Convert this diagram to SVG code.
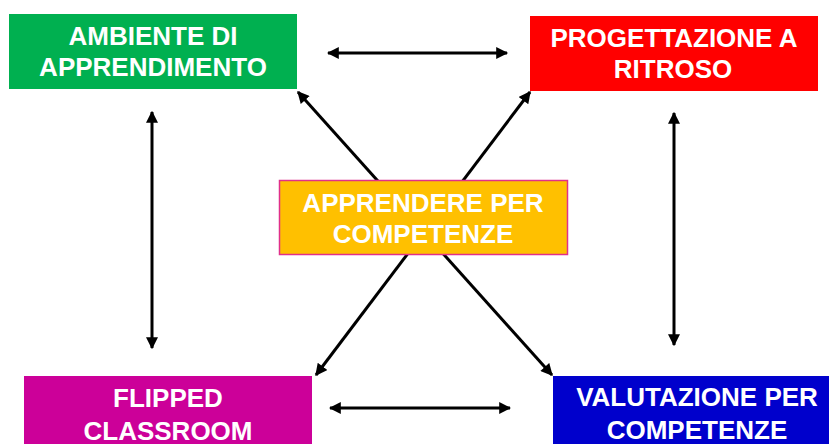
<svg xmlns="http://www.w3.org/2000/svg" width="829" height="444" viewBox="0 0 829 444">
<defs>
<marker id="ah" viewBox="0 0 10 10" refX="9" refY="5" markerWidth="4.2" markerHeight="4" orient="auto-start-reverse" markerUnits="strokeWidth">
<path d="M0,0 L10,5 L0,10 z" fill="#000"/>
</marker>
</defs>
<style>
.c{stroke:#000;stroke-width:3;fill:none;marker-start:url(#ah);marker-end:url(#ah)}
.t{font-family:"Liberation Sans",Arial,sans-serif;font-weight:bold;font-size:26px;fill:#fff;text-anchor:middle}
</style>
<rect width="829" height="444" fill="#fff"/>
<g id="connectors">
<line class="c" x1="298" y1="92" x2="552" y2="375"/>
<line class="c" x1="530" y1="92" x2="316" y2="375"/>
<line class="c" x1="328" y1="53" x2="507" y2="53"/>
<line class="c" x1="330" y1="408" x2="510" y2="408"/>
<line class="c" x1="152" y1="112" x2="152" y2="348"/>
<line class="c" x1="674" y1="113" x2="674" y2="345"/>
</g>
<g id="ambiente">
<rect x="9" y="14" width="288" height="75" fill="#00B050"/>
<text class="t" x="153" y="45">AMBIENTE DI</text>
<text class="t" x="153" y="76">APPRENDIMENTO</text>
</g>
<g id="progettazione">
<rect x="530" y="16" width="288" height="75" fill="#FF0000"/>
<text class="t" x="674" y="47">PROGETTAZIONE A</text>
<text class="t" x="673" y="78">RITROSO</text>
</g>
<g id="apprendere">
<rect x="279.5" y="180.5" width="288" height="74" fill="#FFC000" stroke="#E0308A" stroke-width="1.5"/>
<text class="t" x="423" y="212">APPRENDERE PER</text>
<text class="t" x="423" y="243">COMPETENZE</text>
</g>
<g id="flipped">
<rect x="24" y="376" width="288" height="75" fill="#CC0099"/>
<text class="t" x="168" y="407">FLIPPED</text>
<text class="t" x="168" y="440">CLASSROOM</text>
</g>
<g id="valutazione">
<rect x="553" y="376" width="288" height="75" fill="#0000CC"/>
<text class="t" x="697" y="406">VALUTAZIONE PER</text>
<text class="t" x="697" y="439">COMPETENZE</text>
</g>
</svg>
